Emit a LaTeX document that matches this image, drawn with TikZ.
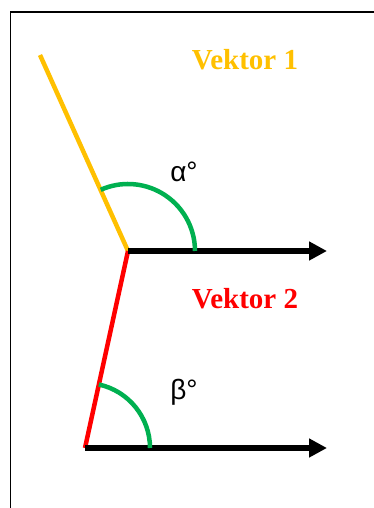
\documentclass[tikz,border=0pt]{standalone}
\usepackage{fontspec}
\setmainfont{Liberation Serif}
\newfontfamily\greekfont{Liberation Sans}
\usetikzlibrary{arrows.meta}
\definecolor{vekYellow}{HTML}{FFC000}
\definecolor{vekRed}{HTML}{FF0000}
\definecolor{vekGreen}{HTML}{00B050}
\tikzset{
  vek frame/.style={draw=black, line width=1.5pt},
  vek vector/.style={line width=4.5pt},
  vek axis/.style={draw=black, line width=6pt, -{Triangle[length=18pt, width=18pt]}},
  vek arc/.style={draw=vekGreen, line width=4.5pt},
  vek label/.style={font=\fontsize{29}{31}\selectfont\bfseries, inner sep=0pt},
  vek angle/.style={font=\greekfont\fontsize{28}{30}\selectfont, inner sep=0pt},
}
\begin{document}
\begin{tikzpicture}[x=1pt, y=1pt]
  \useasboundingbox (0,0) rectangle (374,508);
  % Outer frame, cut off at the right and bottom
  \begin{scope}
    \clip (0,0) rectangle (374,508);
    \draw[vek frame] (10.5,-20) rectangle (400,496);
  \end{scope}
  % Origins and ends
  \coordinate (top) at (128,257);
  \coordinate (tip1) at (40,453);
  \coordinate (end1) at (327,257);
  \coordinate (bot) at (85,60);
  \coordinate (end2) at (327,60);
  % Vectors
  \draw[vek vector, vekYellow] (top) -- (tip1);
  \draw[vek vector, vekRed] (bot) -- (top);
  \draw[vek axis] (top) -- (end1);
  \draw[vek axis] (bot) -- (end2);
  % Angle arcs
  \draw[vek arc] ([shift={(0:67)}]top) arc[start angle=0, end angle=114, radius=67];
  \draw[vek arc] ([shift={(0:65)}]bot) arc[start angle=0, end angle=77.7, radius=65];
  % Labels
  \node[vek label, text=vekYellow] (vek1) at (245,448) {Vektor 1};
  \node[vek label, text=vekRed] (vek2) at (245,209) {Vektor 2};
  \node[vek angle] (alpha) at (184,336) {α°};
  \node[vek angle] (beta) at (184,116) {β°};
\end{tikzpicture}
\end{document}
